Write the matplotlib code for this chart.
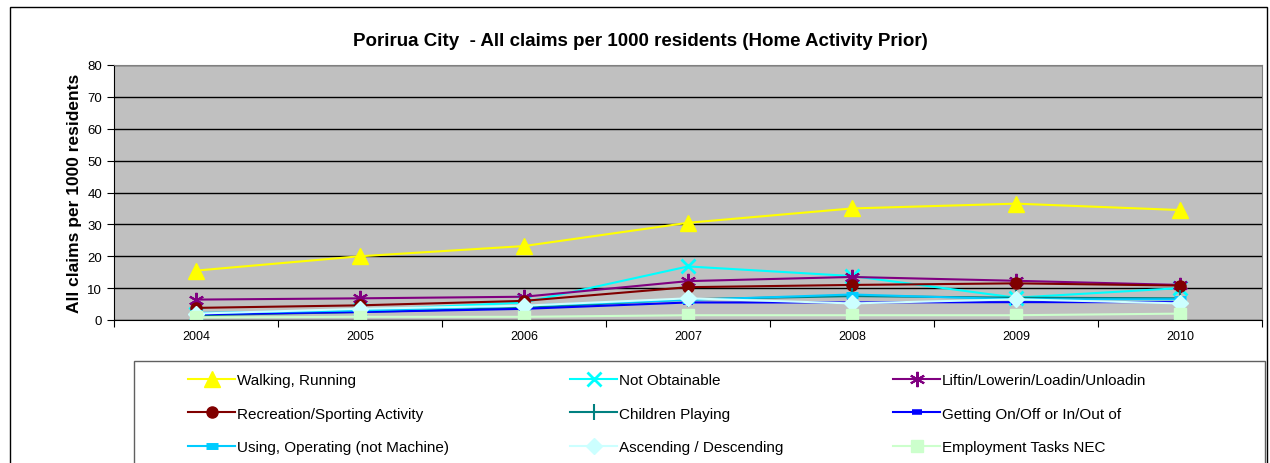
import numpy as np
import matplotlib.pyplot as plt
from matplotlib.patches import Rectangle

plt.rcParams['font.family'] = ['Liberation Sans', 'DejaVu Sans']

years = ['2004', '2005', '2006', '2007', '2008', '2009', '2010']

walking = [15.5, 20.0, 23.2, 30.5, 35.0, 36.5, 34.5]
not_obtainable = [2.0, 3.0, 5.5, 16.8, 13.8, 7.0, 10.0]
liftin = [6.4, 6.8, 7.3, 12.2, 13.5, 12.3, 11.0]
recreation = [3.8, 4.6, 6.0, 10.3, 11.0, 11.5, 10.8]
children = [1.5, 2.5, 3.8, 6.5, 7.5, 7.0, 6.8]
getting_on = [1.8, 2.5, 3.5, 5.5, 5.5, 5.6, 5.6]
using_op = [2.2, 3.0, 4.5, 6.3, 8.0, 6.5, 6.5]
ascending = [2.0, 3.5, 4.5, 6.8, 5.2, 6.5, 5.2]
employment = [0.8, 1.0, 1.0, 1.5, 1.5, 1.5, 2.0]

series = [
    ('Walking, Running', walking, '#FFFF00', '^', 11, 1),
    ('Not Obtainable', not_obtainable, '#00FFFF', 'x', 10, 2),
    ('Liftin/Lowerin/Loadin/Unloadin', liftin, '#800080', (6, 2, 0), 11, 1.5),
    ('Recreation/Sporting Activity', recreation, '#800000', 'o', 8, 1),
    ('Children Playing', children, '#008080', '|', 11, 1.5),
    ('Getting On/Off or In/Out of', getting_on, '#0000FF', '_', 7, 4),
    ('Using, Operating (not Machine)', using_op, '#00CCFF', '_', 9, 5),
    ('Ascending / Descending', ascending, '#CCFFFF', 'D', 8, 1),
    ('Employment Tasks NEC', employment, '#CCFFCC', 's', 9, 1),
]

W, H = 1270, 464
fig = plt.figure(figsize=(W / 100, H / 100), dpi=100)

# outer chart border
fig.add_artist(Rectangle((10 / W, -0.05), 1257 / W, 1.05 - 8 / H,
                         transform=fig.transFigure, fill=False,
                         edgecolor='black', linewidth=1))

ax = fig.add_axes([114 / W, (H - 321) / H, 1148 / W, 255 / H])
ax.set_facecolor('#C0C0C0')
x = np.arange(len(years))

handles = []
for name, vals, col, mk, ms, mew in series:
    ln, = ax.plot(x, vals, color=col, linewidth=1.5, marker=mk, markersize=ms,
                  markerfacecolor=col, markeredgecolor=col, markeredgewidth=mew,
                  label=name)
    handles.append(ln)

ax.set_xlim(-0.5, len(years) - 0.5)
ax.set_ylim(0, 80)
ax.set_yticks(np.arange(0, 81, 10))
ax.yaxis.grid(True, color='black', linewidth=1)
ax.set_axisbelow(True)
ax.set_xticks(np.arange(-0.5, len(years), 1))
ax.set_xticklabels([])
ax.set_xticks(x, minor=True)
ax.set_xticklabels(years, minor=True)
ax.tick_params(axis='x', which='minor', length=0, labelsize=9, pad=7)
ax.tick_params(axis='x', which='major', length=5, direction='out')
ax.tick_params(axis='y', labelsize=9.5, length=5, direction='out')
for s in ['left', 'bottom']:
    ax.spines[s].set_color('black')
for s in ['top', 'right']:
    ax.spines[s].set_color('#808080')

ax.set_ylabel('All claims per 1000 residents', fontsize=12.5, fontweight='bold',
              labelpad=4)
fig.text(640 / W, 1 - 42 / H,
         'Porirua City  - All claims per 1000 residents (Home Activity Prior)',
         ha='center', va='center', fontsize=13.5, fontweight='bold')

# legend frame
fig.add_artist(Rectangle((134 / W, -0.05), 1131 / W, 1.05 - 362 / H,
                         transform=fig.transFigure, fill=False,
                         edgecolor='#606060', linewidth=1))

col_x = [188, 570, 893]
for c in range(3):
    hs = handles[c::3]
    leg = fig.legend(handles=hs, labels=[h.get_label() for h in hs],
                     loc='upper left', bbox_to_anchor=(col_x[c] / W, 1 - 374 / H),
                     frameon=False, fontsize=11, handlelength=3.1,
                     handletextpad=0.1, labelspacing=1.28, borderpad=0,
                     borderaxespad=0, numpoints=1)

fig.savefig('out.png', dpi=100)
